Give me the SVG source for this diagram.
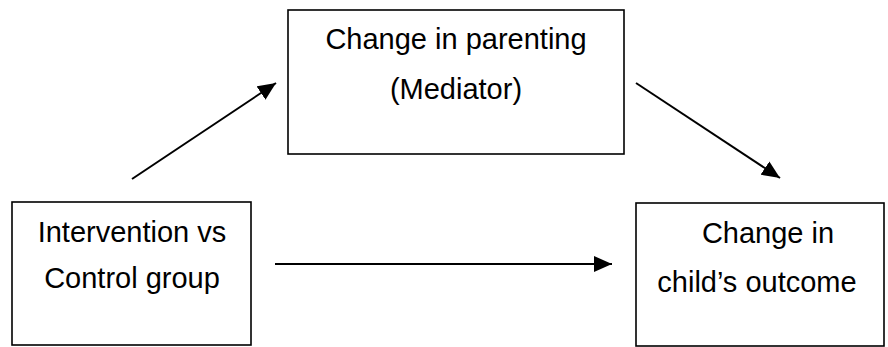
<svg xmlns="http://www.w3.org/2000/svg" width="888" height="347" viewBox="0 0 888 347">
<style>
.box{fill:#fff;stroke:#000;stroke-width:1.6}
.lbl{font-family:"Liberation Sans",Arial,sans-serif;font-size:29px;fill:#000;text-anchor:middle}
.conn{stroke:#000;stroke-width:2;fill:none}
</style>
<defs>
<marker id="ah" markerUnits="userSpaceOnUse" markerWidth="19" markerHeight="16" refX="18" refY="8" orient="auto">
<path d="M0,0 L18,8 L0,16 Z" fill="#000"/>
</marker>
</defs>
<rect width="888" height="347" fill="#fff"/>
<g id="intervention">
<rect class="box" x="12" y="202" width="239" height="143"/>
<text class="lbl" x="132" y="242">Intervention vs</text>
<text class="lbl" x="132" y="288">Control group</text>
</g>
<g id="mediator">
<rect class="box" x="288" y="10" width="336" height="144"/>
<text class="lbl" x="456" y="49">Change in parenting</text>
<text class="lbl" x="456" y="99">(Mediator)</text>
</g>
<g id="outcome">
<rect class="box" x="636" y="203" width="248" height="143"/>
<text class="lbl" x="768" y="243">Change in</text>
<text class="lbl" x="757" y="292">child’s outcome</text>
</g>
<g id="connectors">
<line class="conn" x1="132" y1="179" x2="276" y2="83" marker-end="url(#ah)"/>
<line class="conn" x1="636" y1="83" x2="780" y2="178" marker-end="url(#ah)"/>
<line class="conn" x1="275" y1="264" x2="612" y2="264" marker-end="url(#ah)"/>
</g>
</svg>
